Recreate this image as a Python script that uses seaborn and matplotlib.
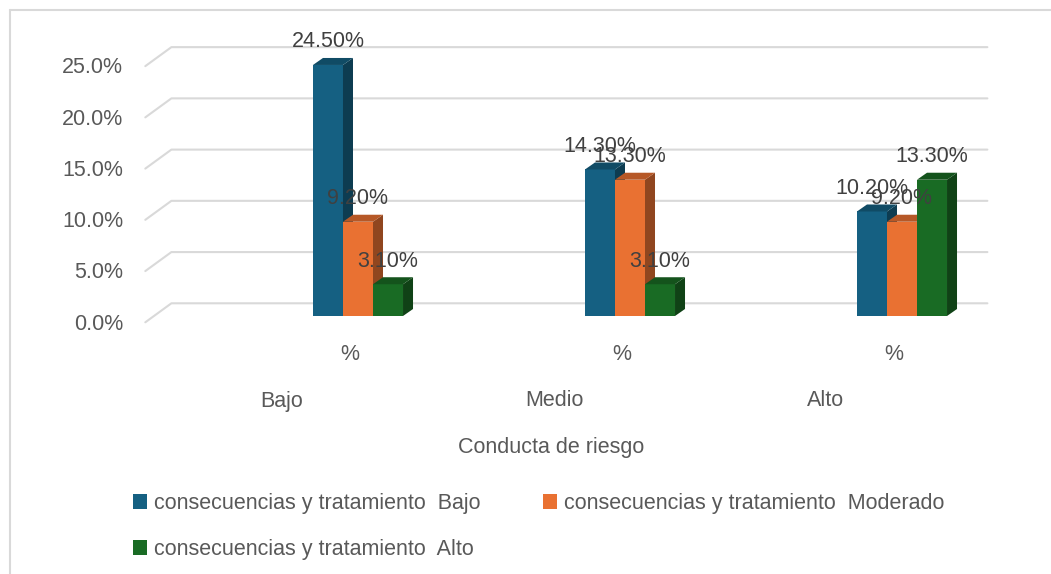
import numpy as np
import pandas as pd
import matplotlib
matplotlib.use("Agg")
import matplotlib.pyplot as plt
import matplotlib.transforms as mtransforms
from matplotlib.patches import Polygon, Patch
from matplotlib.lines import Line2D
import seaborn as sns

# -----------------------------
# Data
# -----------------------------
niveles = ["Bajo", "Medio", "Alto"]
series = [
    "consecuencias y tratamiento  Bajo",
    "consecuencias y tratamiento  Moderado",
    "consecuencias y tratamiento  Alto",
]
serie_bajo = [24.5, 14.3, 10.2]
serie_moderado = [9.2, 13.3, 9.2]
serie_alto = [3.1, 3.1, 13.3]
y_ticks = [0, 5, 10, 15, 20, 25]
sub_label = "%"
x_title = "Conducta de riesgo"

colores = ["#156082", "#E97132", "#196B24"]

df = pd.DataFrame({
    "nivel": niveles * 3,
    "serie": [series[0]] * 3 + [series[1]] * 3 + [series[2]] * 3,
    "valor": serie_bajo + serie_moderado + serie_alto,
})

# -----------------------------
# Figure setup
# -----------------------------
sns.set_theme(style="white")
plt.rcParams["font.family"] = ["Liberation Sans", "DejaVu Sans"]

W, H = 1051, 574
FS = 15.5
TXT = "#595959"

fig = plt.figure(figsize=(W / 100, H / 100), dpi=100)
ax = fig.add_axes([154 / W, (H - 316) / H, 816 / W, 266.4 / H])

sns.barplot(data=df, x="nivel", y="valor", hue="serie", order=niveles,
            hue_order=series, palette=colores, width=0.331, saturation=1,
            linewidth=0, legend=False, ax=ax)
ax.set_xlim(-0.75, 2.25)
ax.set_ylim(0, 26)
ax.axis("off")
ax.patch.set_alpha(0)

# 3D-like floor/back wall offsets (pixels)
BACK = np.array([17.4, 12.7])
FRONT = np.array([-8.7, -6.3])

# gridlines on back wall + diagonal on the side
for v in y_ticks:
    pL = ax.transData.transform((-0.75, v))
    pR = ax.transData.transform((2.25, v))
    f = pL + FRONT
    b = pL + BACK
    r = pR + BACK
    ax.plot([f[0], b[0], r[0]], [f[1], b[1], r[1]], color="#D9D9D9", lw=1.5,
            transform=mtransforms.IdentityTransform(), clip_on=False, zorder=0.5)
    lab_tr = mtransforms.offset_copy(ax.transData, fig=fig, x=-31, y=-8, units="dots")
    ax.text(-0.75, v, f"{v:.1f}%", transform=lab_tr, ha="right", va="center",
            fontsize=FS, color=TXT, clip_on=False)

# side and top faces of the bars
dx = 10 / 272
dy = 7 / (266.4 / 26)
bars = sorted(ax.patches, key=lambda p: p.get_x())
for k, p in enumerate(bars):
    x0, w, h = p.get_x(), p.get_width(), p.get_height()
    x1 = x0 + w
    rgb = np.array(p.get_facecolor()[:3])
    p.set_zorder(3 + 2 * k)
    side = Polygon([(x1, 0), (x1 + dx, dy), (x1 + dx, h + dy), (x1, h)],
                   closed=True, facecolor=rgb * 0.62, edgecolor="none",
                   zorder=4 + 2 * k, clip_on=False)
    top = Polygon([(x0, h), (x0 + dx, h + dy), (x1 + dx, h + dy), (x1, h)],
                  closed=True, facecolor=rgb * 0.78, edgecolor="none",
                  zorder=4 + 2 * k, clip_on=False)
    ax.add_patch(side)
    ax.add_patch(top)
    ax.annotate(f"{h:.2f}%", (x0 + w / 2, h), xytext=(0, 23),
                textcoords="offset pixels", ha="center", va="center",
                fontsize=FS, color="#404040", zorder=50, annotation_clip=False)

# category labels (two levels) and axis title
sub_tr = mtransforms.offset_copy(ax.transData, fig=fig, x=-8, y=-38, units="dots")
cat_tr = mtransforms.offset_copy(ax.transData, fig=fig, x=-76, y=-85, units="dots")
for i, nivel in enumerate(niveles):
    ax.text(i, 0, sub_label, transform=sub_tr, ha="center", va="center",
            fontsize=FS, color=TXT, clip_on=False)
    ax.text(i, 0, nivel, transform=cat_tr, ha="center", va="center",
            fontsize=FS, color=TXT, clip_on=False)
fig.text(551 / W, 1 - 447 / H, x_title, ha="center", va="center",
         fontsize=FS, color=TXT)

# legend (row-wise order like Excel)
handles = [Patch(facecolor=c, edgecolor="none") for c in colores]
order = [0, 2, 1]
fig.legend([handles[i] for i in order], [series[i] for i in order],
           ncol=2, loc="upper left", bbox_to_anchor=(133 / W, 1 - 493 / H),
           frameon=False, fontsize=FS, labelcolor=TXT,
           handlelength=0.67, handleheight=0.67, handletextpad=0.3,
           columnspacing=2.9, labelspacing=1.15, borderpad=0, borderaxespad=0)

# chart border
fig.add_artist(Line2D([10 / W, 10 / W], [0, 1 - 10 / H], color="#D9D9D9", lw=1.5,
                      transform=fig.transFigure))
fig.add_artist(Line2D([10 / W, 1], [1 - 10 / H, 1 - 10 / H], color="#D9D9D9", lw=1.5,
                      transform=fig.transFigure))

fig.savefig("out.png", dpi=100)
